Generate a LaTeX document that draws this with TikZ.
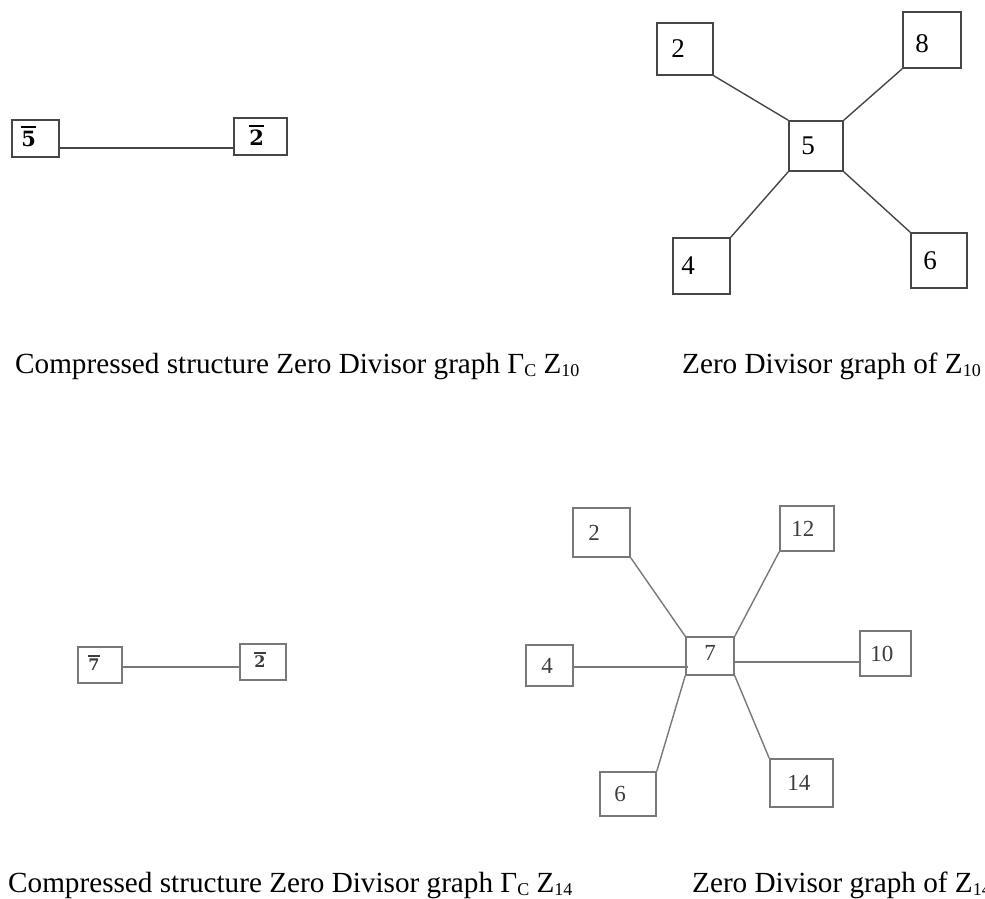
\documentclass[tikz,border=0pt]{standalone}
\usepackage{fontspec}
\setmainfont{Liberation Serif}
\newfontfamily\labfont{DejaVu Serif}
\definecolor{edgeA}{RGB}{70,70,70}
\definecolor{edgeB}{RGB}{120,120,120}
\definecolor{txtB}{RGB}{60,60,60}
\newcommand{\subtxt}[1]{\raisebox{-0.28ex}{\fontsize{18}{18}\selectfont #1}}
\newcommand{\obar}[1]{\leavevmode\setbox0=\hbox{\labfont\bfseries #1}\rlap{\raisebox{\dimexpr\ht0+0.14em\relax}{\rule{\wd0}{0.08em}}}\box0}
\tikzset{
  boxA/.style={draw=edgeA, line width=1.6pt, inner sep=0pt, fill=none},
  boxB/.style={draw=edgeB, line width=1.6pt, inner sep=0pt, fill=none},
  edgeAst/.style={draw=edgeA, line width=1.4pt},
  edgeBst/.style={draw=edgeB, line width=1.4pt},
  numA/.style={inner sep=0pt, anchor=west, font=\fontsize{27}{27}\selectfont},
  numB/.style={inner sep=0pt, anchor=west, text=txtB, font=\fontsize{23}{23}\selectfont},
  barA/.style={inner sep=0pt, anchor=west, font=\fontsize{21}{21}\selectfont},
  barB/.style={inner sep=0pt, anchor=west, text=txtB, font=\fontsize{16}{16}\selectfont},
  captxt/.style={inner sep=0pt, anchor=base west, font=\fontsize{29.2}{31}\selectfont}
}
\begin{document}
\begin{tikzpicture}[x=1pt, y=-1pt]
\useasboundingbox (0,0) rectangle (985,899);
% ---------- top-left: compressed graph Z10
\node[boxA, minimum width=47, minimum height=37] (c5) at (35.5,138.5) {};
\node[boxA, minimum width=53, minimum height=37] (c2) at (260.5,136.5) {};
\node[barA] (c5t) at ([xshift=10,yshift=2]c5.west) {\obar{5}};
\node[barA] (c2t) at ([xshift=16,yshift=1]c2.west) {\obar{2}};
\coordinate (c5e) at (c5.east |- 0,148);
\coordinate (c2e) at (c2.west |- 0,148);
\draw[edgeAst] (c5e) -- (c2e);
% ---------- top-right: zero divisor graph Z10
\node[boxA, minimum width=56, minimum height=52] (t2) at (685,49) {};
\node[boxA, minimum width=58, minimum height=56] (t8) at (932,40) {};
\node[boxA, minimum width=54, minimum height=50] (t5) at (816,146) {};
\node[boxA, minimum width=57, minimum height=56] (t4) at (701.5,266) {};
\node[boxA, minimum width=56, minimum height=55] (t6) at (939,260.5) {};
\node[numA] (t2t) at ([xshift=15]t2.west) {2};
\node[numA] (t8t) at ([xshift=13,yshift=-4]t8.west) {8};
\node[numA] (t5t) at ([xshift=13]t5.west) {5};
\node[numA] (t4t) at ([xshift=9]t4.west) {4};
\node[numA] (t6t) at ([xshift=13]t6.west) {6};
\draw[edgeAst] (t2.south east) -- (t5.north west);
\draw[edgeAst] (t8.south west) -- (t5.north east);
\draw[edgeAst] (t4.north east) -- (t5.south west);
\draw[edgeAst] (t5.south east) -- (t6.north west);
% ---------- captions row 1
\node[captxt] (cap1) at (15,373) {Compressed structure Zero Divisor graph Γ\subtxt{C} Z\subtxt{10}};
\node[captxt] (cap2) at (682,373) {Zero Divisor graph of Z\subtxt{10}};
% ---------- bottom-left: compressed graph Z14
\node[boxB, minimum width=44, minimum height=36] (d7) at (100,665) {};
\node[boxB, minimum width=46, minimum height=36] (d2) at (263,662) {};
\node[barB] (d7t) at ([xshift=11,yshift=2]d7.west) {\obar{7}};
\node[barB] (d2t) at ([xshift=15,yshift=2]d2.west) {\obar{2}};
\coordinate (d7e) at (d7.east |- 0,667);
\coordinate (d2e) at (d2.west |- 0,667);
\draw[edgeBst] (d7e) -- (d2e);
% ---------- bottom-right: zero divisor graph Z14
\node[boxB, minimum width=57, minimum height=49] (b2) at (601.5,532.5) {};
\node[boxB, minimum width=54, minimum height=45] (b12) at (807,528.5) {};
\node[boxB, minimum width=47, minimum height=41] (b4) at (549.5,665.5) {};
\node[boxB, minimum width=48, minimum height=38] (b7) at (710,656) {};
\node[boxB, minimum width=51, minimum height=45] (b10) at (885.5,653.5) {};
\node[boxB, minimum width=56, minimum height=44] (b6) at (628,794) {};
\node[boxB, minimum width=63, minimum height=48] (b14) at (801.5,783) {};
\node[numB] (b2t) at ([xshift=16]b2.west) {2};
\node[numB] (b12t) at ([xshift=12]b12.west) {12};
\node[numB] (b4t) at ([xshift=16]b4.west) {4};
\node[numB] (b7t) at ([xshift=19,yshift=3]b7.west) {7};
\node[numB] (b10t) at ([xshift=11]b10.west) {10};
\node[numB] (b6t) at ([xshift=15]b6.west) {6};
\node[numB] (b14t) at ([xshift=18]b14.west) {14};
\coordinate (b7l) at (688,667);
\coordinate (b4r) at (b4.east |- b7l);
\coordinate (b7r) at (b7.east |- 0,662);
\coordinate (b10l) at (b10.west |- b7r);
\draw[edgeBst] (b2.south east) -- (b7.north west);
\draw[edgeBst] (b12.south west) -- (b7.north east);
\draw[edgeBst] (b4r) -- (b7l);
\draw[edgeBst] (b7r) -- (b10l);
\draw[edgeBst] (b6.north east) -- (b7.south west);
\draw[edgeBst] (b7.south east) -- (b14.north west);
% ---------- captions row 2
\node[captxt] (cap3) at (8,892) {Compressed structure Zero Divisor graph Γ\subtxt{C} Z\subtxt{14}};
\node[captxt] (cap4) at (692,892) {Zero Divisor graph of Z\subtxt{14}};
\end{tikzpicture}
\end{document}
